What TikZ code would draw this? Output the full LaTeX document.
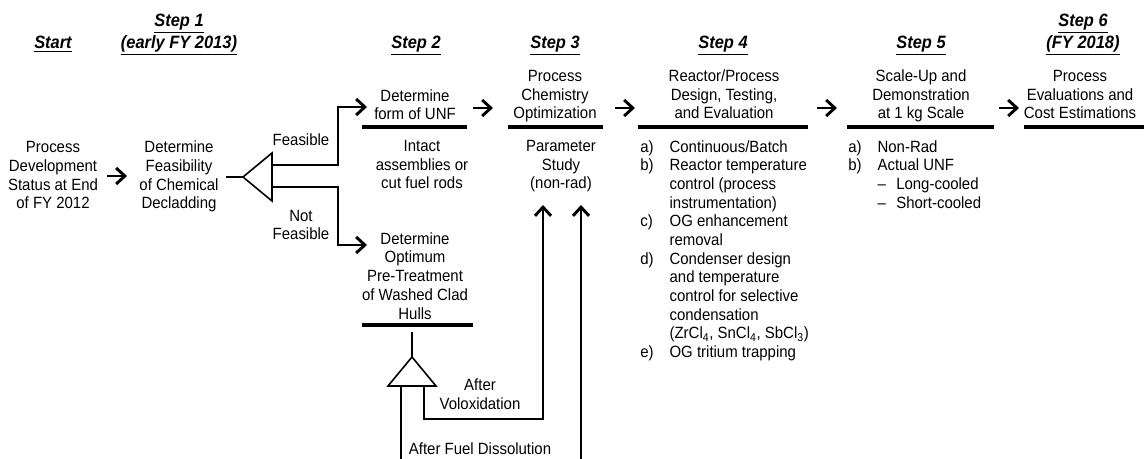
\documentclass[tikz,border=0pt]{standalone}
\usepackage{fontspec}
\setmainfont{Liberation Sans}[FakeStretch=0.92]
\usetikzlibrary{arrows.meta}

\newcommand{\bodyfont}{\fontsize{12.2}{14}\selectfont}
\newcommand{\headfont}{\fontsize{13.4}{16.5}\selectfont\bfseries\itshape}
\newcommand{\hul}[1]{\underline{#1}}

\begin{document}
\begin{tikzpicture}[x=0.75pt, y=-0.75pt,
  every node/.style={inner sep=0pt, font=\bodyfont},
  txt/.style={align=center, anchor=base},
  head/.style={txt, font=\headfont},
  bar/.style={line width=3pt},
  wire/.style={line width=2.2pt},
  go/.style={wire, -{Straight Barb[length=6.5pt, width=12pt]}},
  tri/.style={line width=1.2pt, fill=white}]
\useasboundingbox (0,0) rectangle (1144,459);

% column headings (base = last line)
\node[head] (h0) at (53,49) {\hul{Start}};
\node[head] (h1) at (179,49) {\hul{Step 1}\\\hul{(early FY 2013)}};
\node[head] (h2) at (416,49) {\hul{Step 2}};
\node[head] (h3) at (555,49) {\hul{Step 3}};
\node[head] (h4) at (723,49) {\hul{Step 4}};
\node[head] (h5) at (921,49) {\hul{Step 5}};
\node[head] (h6) at (1083,49) {\hul{Step 6}\\\hul{(FY 2018)}};

% start and step 1
\node[txt] (status) at (53,209) {Process\\Development\\Status at End\\of FY 2012};
\node[txt] (feas) at (179,209) {Determine\\Feasibility\\of Chemical\\Decladding};

% titles over the bars
\node[txt] (form) at (415,120) {Determine\\form of UNF};
\node[txt] (chem) at (555,119) {Process\\Chemistry\\Optimization};
\node[txt] (react) at (724,119) {Reactor/Process\\Design, Testing,\\and Evaluation};
\node[txt] (scale) at (921,119) {Scale-Up and\\Demonstration\\at 1 kg Scale};
\node[txt] (evalc) at (1080,119) {Process\\Evaluations and\\Cost Estimations};
\node[txt] (hulls) at (415,319) {Determine\\Optimum\\Pre-Treatment\\of Washed Clad\\Hulls};

% bars
\draw[bar] (362,127) -- (467,127);
\draw[bar] (508,127) -- (603,127);
\draw[bar] (638,127) -- (808,127);
\draw[bar] (847,127) -- (994,127);
\draw[bar] (1024,127) -- (1144,127);
\draw[bar] (362,325) -- (473,325);

% under the bars
\node[txt] (intact) at (422,189) {Intact\\assemblies or\\cut fuel rods};
\node[txt] (param) at (561,189) {Parameter\\Study\\(non-rad)};
\node[anchor=north west] (rlist) at (640,139) {\begin{tabular}{@{}p{22pt}@{}l@{}}
a) & Continuous/Batch\\
b) & Reactor temperature\\
   & control (process\\
   & instrumentation)\\
c) & OG enhancement\\
   & removal\\
d) & Condenser design\\
   & and temperature\\
   & control for selective\\
   & condensation\\
   & (ZrCl\textsubscript{4}, SnCl\textsubscript{4}, SbCl\textsubscript{3})\\
e) & OG tritium trapping
\end{tabular}};
\node[anchor=north west] (slist) at (848,139) {\begin{tabular}{@{}p{22pt}@{}l@{}}
a) & Non-Rad\\
b) & Actual UNF\\
   & \makebox[14pt][l]{--}Long-cooled\\
   & \makebox[14pt][l]{--}Short-cooled
\end{tabular}};

% arrows between steps
\foreach \n/\x/\y in {s0/107/176, s2/473/108, s3/615/108, s4/817/108, s5/999/108} {
  \coordinate (\n) at (\x,\y);
  \draw[go] (\n) -- ++(20,0);
}

% feasibility split
\coordinate (fin) at (226,177);
\coordinate (fA) at (243,177);
\coordinate (fT) at (272,153);
\coordinate (fB) at (272,201);
\coordinate (yesout) at (272,165);
\coordinate (yesknee) at (338,107);
\coordinate (yesin) at (367,107);
\coordinate (noout) at (272,187);
\coordinate (noknee) at (338,245);
\coordinate (noin) at (367,245);
\draw[wire] (fin) -- (fA);
\draw[go] (yesout) -| (yesknee) -- (yesin);
\draw[go] (noout) -| (noknee) -- (noin);
\draw[tri] (fA) -- (fT) -- (fB) -- cycle;
\node[txt] (lyes) at (301,146) {Feasible};
\node[txt] (lno) at (301,240) {Not\\Feasible};

% pre-treatment split, fed back to step 3
\coordinate (vtop) at (412,332);
\coordinate (vA) at (412,357);
\coordinate (vL) at (388,386);
\coordinate (vR) at (436,386);
\coordinate (vleg) at (401,386);
\coordinate (vrig) at (424,386);
\coordinate (voxlow) at (543,419);
\coordinate (voxtip) at (543,205);
\coordinate (dsllow) at (581,463);
\coordinate (dsltip) at (581,205);
\draw[wire] (vtop) -- (vA);
\draw[go] (vrig) |- (voxlow) -- (voxtip);
\draw[go] (vleg) |- (dsllow) -- (dsltip);
\draw[tri] (vA) -- (vL) -- (vR) -- cycle;
\node[txt] (lvox) at (480,409) {After\\Voloxidation};
\node[txt] (ldsl) at (480,454) {After Fuel Dissolution};
\end{tikzpicture}
\end{document}
